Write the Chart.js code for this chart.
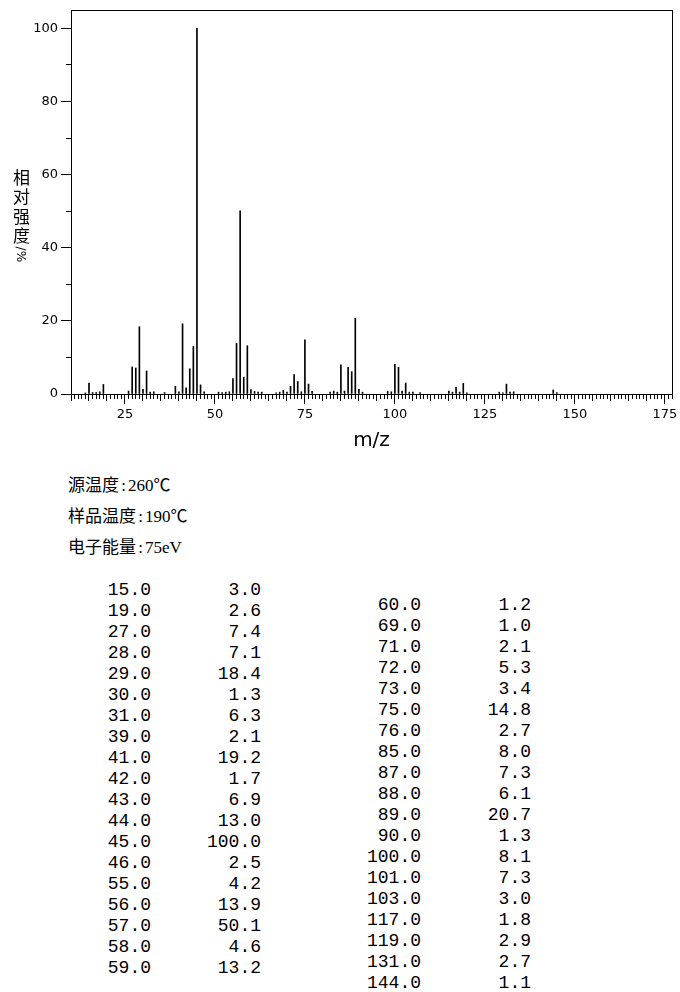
<!DOCTYPE html>
<html><head><meta charset="utf-8">
<script src="https://cdn.jsdelivr.net/npm/chart.js@4/dist/chart.umd.min.js"></script>
<style>
html,body{margin:0;padding:0;background:#fff;width:680px;height:992px;overflow:hidden;position:relative}
#wrap{position:absolute;left:0;top:0;width:680px;height:455px}
#ylab{position:absolute;left:12px;top:169px;writing-mode:vertical-rl;text-orientation:mixed;font-size:17px;font-family:"Noto Sans CJK SC";color:#000;line-height:17px}
#ylab .cjk{letter-spacing:2.4px}
#ylab .unit{font-size:12px;font-family:"DejaVu Sans";letter-spacing:0}
.info{position:absolute;left:68px;font-size:17px;font-family:"Liberation Serif","Noto Sans CJK SC";color:#000;line-height:20px;white-space:pre}
.info .colon{display:inline-block;width:9px;text-align:center}
.cell{position:absolute;font-size:18px;font-family:"Liberation Mono",monospace;line-height:21px;text-align:right;color:#000;white-space:pre;width:80px}
</style></head><body>
<div id="wrap"><canvas id="c" width="680" height="455"></canvas></div>
<div id="ylab"><span class="cjk">相对强度</span><span class="unit">/%</span></div>
<div id="info"></div>
<div id="table"></div>
<script>
// Listed peaks (from the table)
const listedMz = [15,19,27,28,29,30,31,39,41,42,43,44,45,46,55,56,57,58,59,
                  60,69,71,72,73,75,76,85,87,88,89,90,100,101,103,117,119,131,144];
const listedIntensity = [3.0,2.6,7.4,7.1,18.4,1.3,6.3,2.1,19.2,1.7,6.9,13.0,100.0,2.5,4.2,13.9,50.1,4.6,13.2,
                  1.2,1.0,2.1,5.3,3.4,14.8,2.7,8.0,7.3,6.1,20.7,1.3,8.1,7.3,3.0,1.8,2.9,2.7,1.1];
// Small unlisted peaks (estimated from the plot)
const minorMz = [14,16,17,18,26,32,33,36,40,47,51,52,53,54,61,62,63,67,68,70,74,77,82,83,84,86,91,
                 98,99,102,104,105,107,115,116,118,120,129,130,132,133,145];
const minorIntensity = [0.3,0.4,0.4,0.6,0.8,0.5,0.6,0.4,0.6,0.6,0.5,0.4,0.5,0.6,0.7,0.5,0.5,0.3,0.5,0.5,0.6,0.7,0.5,0.8,0.5,0.8,0.5,
                 0.7,0.6,0.8,0.5,0.5,0.4,0.8,0.5,0.5,0.3,0.5,0.3,0.5,0.6,0.4];
const xTickLabels = [25,50,75,100,125,150,175];
const yTickLabels = [0,20,40,60,80,100];
const infoLabels = ["源温度","样品温度","电子能量"];
const infoValues = ["260℃","190℃","75eV"];
const leftRows = 19;

// Info text
const info = document.getElementById('info');
infoLabels.forEach((t,i)=>{
  const d = document.createElement('div');
  d.className='info'; d.style.top = (476 + i*31) + 'px';
  const a = document.createElement('span'); a.textContent = t;
  const c = document.createElement('span'); c.className='colon'; c.textContent = ':';
  const v = document.createElement('span'); v.textContent = infoValues[i];
  d.appendChild(a); d.appendChild(c); d.appendChild(v);
  info.appendChild(d);
});
// Table
const table = document.getElementById('table');
listedMz.forEach((m,i)=>{
  const right = i >= leftRows;
  const row = right ? i - leftRows : i;
  const top = (right ? 595 : 580) + row*21;
  const x0 = right ? 270 : 0;
  const a = document.createElement('div');
  a.className='cell'; a.style.top=top+'px'; a.style.left=(71+x0)+'px'; a.textContent=m.toFixed(1);
  const b = document.createElement('div');
  b.className='cell'; b.style.top=top+'px'; b.style.left=(181+x0)+'px'; b.textContent=listedIntensity[i].toFixed(1);
  table.appendChild(a); table.appendChild(b);
});

const peaks = listedMz.map((m,i)=>({x:m,y:listedIntensity[i]}))
  .concat(minorMz.map((m,i)=>({x:m,y:minorIntensity[i]})));

const black = '#000';
const noPad = s => { s.paddingLeft=0; s.paddingRight=0; s.paddingTop=0; s.paddingBottom=0; };
const hiddenAxis = (pos, extra) => Object.assign({
  type:'linear', position:pos, display:true, offset:false,
  ticks:{display:false},
  grid:{drawOnChartArea:false, drawTicks:false, color:black, offset:false},
  border:{display:true, color:black, width:1},
}, extra);

new Chart(document.getElementById('c'), {
  type:'bar',
  data:{datasets:[{data:peaks, backgroundColor:black, borderWidth:0, barThickness:1, xAxisID:'x', yAxisID:'y'}]},
  options:{
    responsive:false, animation:false, devicePixelRatio:1,
    layout:{padding:{top:10,right:8,left:0,bottom:0}},
    plugins:{legend:{display:false}, tooltip:{enabled:false}},
    scales:{
      x:{type:'linear', position:'bottom', min:10, max:177, weight:2, offset:false,
        afterBuildTicks:s=>{ s.ticks = xTickLabels.map(v=>({value:v})); },
        ticks:{autoSkip:false, maxRotation:0, padding:3, color:black, font:{family:'DejaVu Sans', size:13}},
        grid:{drawOnChartArea:false, offset:false, tickLength:10, color:black, tickColor:black},
        border:{color:black, width:1},
        title:{display:true, text:'m/z', color:black, font:{family:'DejaVu Sans', size:20}, padding:{top:0,bottom:2}},
        afterFit:s=>{ s.height=61; noPad(s); }
      },
      xMid:{type:'linear', position:'bottom', min:10, max:177, weight:1, offset:false,
        afterBuildTicks:s=>{ s.ticks = s.ticks.filter(t=>t.value%5===0); },
        ticks:{display:false, stepSize:5, autoSkip:false, maxTicksLimit:100},
        grid:{drawOnChartArea:false, offset:false, tickLength:7, color:black, tickColor:black},
        border:{display:false},
        afterFit:s=>{ s.height=0; noPad(s); }
      },
      xMinor:{type:'linear', position:'bottom', min:10, max:177, weight:0, offset:false,
        ticks:{display:false, stepSize:1, autoSkip:false, maxTicksLimit:500},
        grid:{drawOnChartArea:false, offset:false, tickLength:5, color:black, tickColor:black},
        border:{display:false},
        afterFit:s=>{ s.height=0; noPad(s); }
      },
      xTop: hiddenAxis('top', {min:10, max:177, afterFit:s=>{ s.height=0; noPad(s); }}),
      y:{type:'linear', position:'left', min:0, max:105, weight:1,
        afterBuildTicks:s=>{ s.ticks = yTickLabels.map(v=>({value:v})); },
        ticks:{padding:3, color:black, font:{family:'DejaVu Sans', size:13}},
        grid:{drawOnChartArea:false, tickLength:10, color:black, tickColor:black},
        border:{color:black, width:1},
        afterFit:s=>{ s.width=71; noPad(s); }
      },
      yMinor:{type:'linear', position:'left', min:0, max:105, weight:0,
        afterBuildTicks:s=>{ s.ticks = s.ticks.filter(t=>t.value%10===0 && t.value<=100); },
        ticks:{display:false, stepSize:10, autoSkip:false},
        grid:{drawOnChartArea:false, tickLength:5, color:black, tickColor:black},
        border:{display:false},
        afterFit:s=>{ s.width=0; noPad(s); }
      },
      yRight: hiddenAxis('right', {min:0, max:105, afterFit:s=>{ s.width=0; noPad(s); }})
    }
  }
});
</script>
</body></html>
